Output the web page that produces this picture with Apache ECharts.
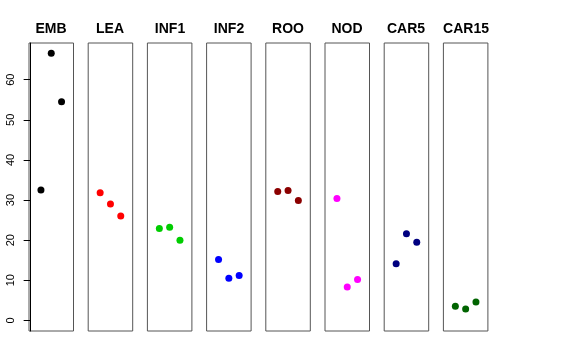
<!DOCTYPE html>
<html>
<head>
<meta charset="utf-8">
<script src="https://cdn.jsdelivr.net/npm/echarts@6/dist/echarts.min.js"></script>
<style>html,body{margin:0;padding:0;background:#fff}#c{width:576px;height:360px}</style>
</head>
<body>
<div id="c"></div>
<script>
var panels = ['EMB','LEA','INF1','INF2','ROO','NOD','CAR5','CAR15'];
var colors = ['#000000','#FF0000','#00CD00','#0000FF','#8B0000','#FF00FF','#000080','#006400'];
var xPos = [1, 2, 3];
var EMB = [32.5, 66.6, 54.5];
var LEA = [31.8, 29.0, 26.0];
var INF1 = [22.9, 23.2, 20.0];
var INF2 = [15.2, 10.5, 11.2];
var ROO = [32.1, 32.4, 29.9];
var NOD = [30.4, 8.3, 10.2];
var CAR5 = [14.1, 21.6, 19.5];
var CAR15 = [3.5, 2.8, 4.6];
var values = [EMB, LEA, INF1, INF2, ROO, NOD, CAR5, CAR15];
var yTicks = [0, 10, 20, 30, 40, 50, 60];

(function () {
  var grids = [], xAxes = [], yAxes = [], series = [], titles = [];
  var left0 = 29, step = 59.2, w = 44.5, gTop = 43, gH = 288;
  panels.forEach(function (name, i) {
    var L = left0 + i * step;
    grids.push({left: L, top: gTop, width: w, height: gH, show: true, borderColor: '#555', borderWidth: 1});
    xAxes.push({type: 'value', gridIndex: i, min: -0.16, max: 4.16, show: false});
    if (i === 0) {
      yAxes.push({
        type: 'value', gridIndex: i, min: -2.66, max: 69.16,
        splitLine: {show: false},
        axisLine: {show: true, lineStyle: {color: '#000', width: 1}},
        axisTick: {show: true, length: 7, customValues: yTicks, lineStyle: {color: '#000'}},
        axisLabel: {show: true, rotate: 90, margin: 13, customValues: yTicks, color: '#000', fontSize: 11, fontFamily: 'Liberation Sans'}
      });
    } else {
      yAxes.push({type: 'value', gridIndex: i, min: -2.66, max: 69.16, show: false, splitLine: {show: false}});
    }
    series.push({
      type: 'scatter', xAxisIndex: i, yAxisIndex: i,
      symbol: 'circle', symbolSize: 7,
      itemStyle: {color: colors[i], opacity: 1},
      data: xPos.map(function (x, k) { return [x, values[i][k]]; }),
      silent: true
    });
    titles.push({
      text: name, left: Math.round(L + w / 2), top: 22, textAlign: 'center', padding: 0,
      textStyle: {fontFamily: 'Liberation Sans', fontWeight: 'bold', fontSize: 14, color: '#000'}
    });
  });

  var chart = echarts.init(document.getElementById('c'));
  chart.setOption({
    animation: false,
    title: titles,
    grid: grids,
    xAxis: xAxes,
    yAxis: yAxes,
    series: series
  });
})();
</script>
</body>
</html>
